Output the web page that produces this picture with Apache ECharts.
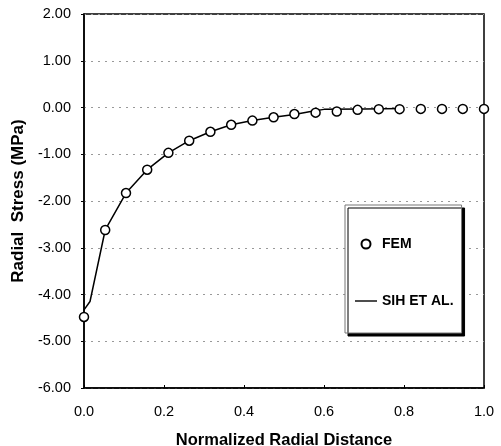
<!DOCTYPE html>
<html><head><meta charset="utf-8">
<script src="https://cdn.jsdelivr.net/npm/echarts@6/dist/echarts.min.js"></script>
<style>html,body{margin:0;padding:0;background:#fff}#c{width:501px;height:446px}</style>
</head><body><div id="c"></div>
<script>
const femX = [0, 0.053, 0.105, 0.158, 0.211, 0.263, 0.316, 0.368, 0.421, 0.474, 0.526, 0.579, 0.632, 0.684, 0.737, 0.789, 0.842, 0.895, 0.947, 1.0];
const femY = [-4.48, -2.62, -1.83, -1.33, -0.97, -0.71, -0.52, -0.37, -0.28, -0.21, -0.14, -0.11, -0.085, -0.05, -0.035, -0.035, -0.03, -0.03, -0.03, -0.03];
const sihX = [0, 0.015, 0.053, 0.105, 0.158, 0.211, 0.263, 0.316, 0.368, 0.421, 0.474, 0.526, 0.57, 0.6, 0.7, 0.8];
const sihY = [-4.33, -4.15, -2.62, -1.83, -1.33, -0.97, -0.71, -0.52, -0.37, -0.28, -0.21, -0.15, -0.08, -0.04, -0.03, -0.02];
const seriesNames = ['FEM', 'SIH ET AL.'];
const xTitle = 'Normalized Radial Distance';
const yTitle = 'Radial  Stress (MPa)';

const font = "'Liberation Sans', Arial, sans-serif";
const chart = echarts.init(document.getElementById('c'), null, {renderer: 'canvas'});
chart.setOption({
  animation: false,
  backgroundColor: '#fff',
  grid: {left: 84, right: 17, top: 14, bottom: 58, show: true, borderColor: '#000', borderWidth: 1.5, containLabel: false, outerBoundsMode: 'none'},
  xAxis: {
    type: 'value', min: 0, max: 1, interval: 0.2,
    name: xTitle, nameLocation: 'middle', nameGap: 44,
    nameTextStyle: {fontFamily: font, fontSize: 16.5, fontWeight: 'bold', color: '#000'},
    axisLine: {onZero: false, lineStyle: {color: '#000', width: 1.5}},
    axisTick: {inside: true, length: 3, lineStyle: {color: '#000'}},
    axisLabel: {formatter: v => v.toFixed(1), fontFamily: font, fontSize: 14.5, color: '#000', margin: 16},
    splitLine: {show: false}
  },
  yAxis: {
    type: 'value', min: -6, max: 2, interval: 1,
    name: yTitle, nameLocation: 'middle', nameGap: 55, nameRotate: 90,
    nameTextStyle: {fontFamily: font, fontSize: 17, fontWeight: 'bold', color: '#000'},
    axisLine: {onZero: false, lineStyle: {color: '#000', width: 1.5}},
    axisTick: {inside: false, length: 3, lineStyle: {color: '#000'}},
    axisLabel: {formatter: v => v.toFixed(2), fontFamily: font, fontSize: 14.5, color: '#000', margin: 13},
    splitLine: {show: true, lineStyle: {color: '#999', width: 1, type: [2, 5]}}
  },
  legend: {
    orient: 'vertical', left: 345, top: 205,
    padding: [32, 8, 25, 10], itemGap: 43, itemWidth: 22, itemHeight: 9,
    backgroundColor: '#fff', borderColor: '#777', borderWidth: 1,
    shadowColor: '#000', shadowBlur: 0, shadowOffsetX: 3, shadowOffsetY: 3,
    textStyle: {fontFamily: font, fontSize: 14, fontWeight: 'bold', color: '#000'},
    data: [
      {name: seriesNames[0], icon: 'circle'},
      {name: seriesNames[1], icon: 'path://M0,0 L22,0 L22,1.4 L0,1.4 Z'}
    ]
  },
  series: [
    {
      name: seriesNames[1], type: 'line', symbol: 'none', z: 2,
      data: sihX.map((x, i) => [x, sihY[i]]),
      lineStyle: {color: '#000', width: 1.5}, itemStyle: {color: '#000'}
    },
    {
      name: seriesNames[0], type: 'scatter', symbol: 'circle', symbolSize: 9, z: 3,
      data: femX.map((x, i) => [x, femY[i]]),
      itemStyle: {color: '#fff', borderColor: '#000', borderWidth: 1.5, opacity: 1}
    }
  ]
});
</script></body></html>
